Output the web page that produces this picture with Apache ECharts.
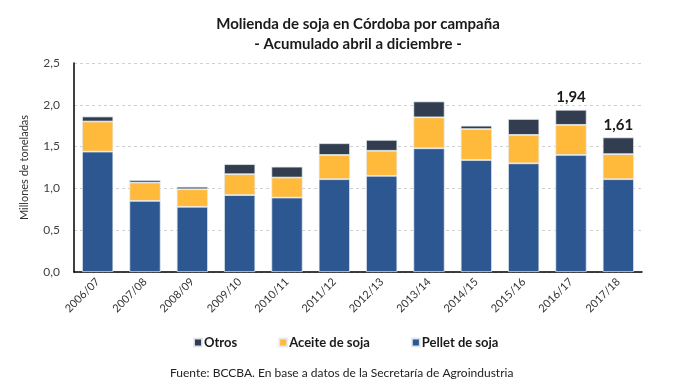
<!DOCTYPE html>
<html><head><meta charset="utf-8">
<script src="https://cdn.jsdelivr.net/npm/echarts@6/dist/echarts.min.js"></script>
<style>html,body{margin:0;padding:0;background:#fff}#c{width:680px;height:389px}</style>
</head><body><div id="c"></div>
<script>
const categories = ["2006/07","2007/08","2008/09","2009/10","2010/11","2011/12","2012/13","2013/14","2014/15","2015/16","2016/17","2017/18"];
const pellet = [1.44,0.85,0.78,0.92,0.89,1.11,1.15,1.48,1.34,1.30,1.40,1.11];
const aceite = [0.36,0.22,0.21,0.25,0.24,0.29,0.30,0.37,0.37,0.34,0.36,0.30];
const otros  = [0.06,0.03,0.03,0.12,0.13,0.14,0.13,0.19,0.04,0.19,0.18,0.20];
const labeledIdx = [10,11];
const yTicks = [0,0.5,1.0,1.5,2.0,2.5];

const F = 'Lato, "Open Sans", sans-serif';
const chart = echarts.init(document.getElementById('c'), null, {renderer:'canvas'});
const border = {borderColor:'rgba(230,235,242,0.9)', borderWidth:0.8};
chart.setOption({
  animation:false,
  title:{text:'Molienda de soja en Córdoba por campaña', subtext:'- Acumulado abril a diciembre -',
    left:353, textAlign:'center', top:12, itemGap:5,
    textStyle:{fontFamily:F,fontSize:15,fontWeight:'bold',color:'#1a1a1a'},
    subtextStyle:{fontFamily:F,fontSize:15,fontWeight:'bold',color:'#1a1a1a'}},
  legend:{data:['Otros','Aceite de soja','Pellet de soja'], left:188, top:331, itemWidth:8, itemHeight:8, itemGap:41,
    icon:'rect', textStyle:{fontFamily:F,fontSize:13,fontWeight:'bold',color:'#1a1a1a',padding:[0,0,0,-3]}},
  graphic:[{type:'text', left:170, top:367, style:{text:'Fuente: BCCBA. En base a datos de la Secretaría de Agroindustria', fontFamily:F, fontSize:12, fill:'#222'}}],
  grid:{left:74, right:38, top:63, bottom:117},
  xAxis:{type:'category', data:categories,
    axisLine:{lineStyle:{color:'#000',width:1.5}}, axisTick:{show:false},
    axisLabel:{rotate:45, fontFamily:F, fontSize:11, color:'#333', margin:8}},
  yAxis:{type:'value', min:0, max:2.5, interval:0.5,
    name:'Millones de toneladas', nameLocation:'middle', nameGap:44, nameRotate:90,
    nameTextStyle:{fontFamily:F,fontSize:11,color:'#333'},
    axisLine:{show:true,lineStyle:{color:'#000',width:1.5}}, axisTick:{show:false},
    axisLabel:{fontFamily:F,fontSize:12,color:'#404040',margin:14,
      formatter:v=>{const t=yTicks.find(x=>Math.abs(x-v)<1e-9);return (t===undefined?v:t).toFixed(1).replace('.',',');}},
    splitLine:{lineStyle:{color:'#d0d0d0',type:[3,3]}}},
  series:[
    {name:'Pellet de soja', type:'bar', stack:'t', data:pellet, barCategoryGap:'34%', itemStyle:Object.assign({color:'#2C5790'},border)},
    {name:'Aceite de soja', type:'bar', stack:'t', data:aceite, itemStyle:Object.assign({color:'#FFBA3C'},border)},
    {name:'Otros', type:'bar', stack:'t', itemStyle:Object.assign({color:'#323E4F'},border),
      data:otros.map((v,i)=>({value:v, label:{show:labeledIdx.includes(i)}})),
      label:{position:'top', distance:5, fontFamily:F, fontSize:15, fontWeight:'bold', color:'#1a1a1a',
        formatter:p=>(pellet[p.dataIndex]+aceite[p.dataIndex]+otros[p.dataIndex]).toFixed(2).replace('.',',')}}
  ]
});
</script></body></html>
